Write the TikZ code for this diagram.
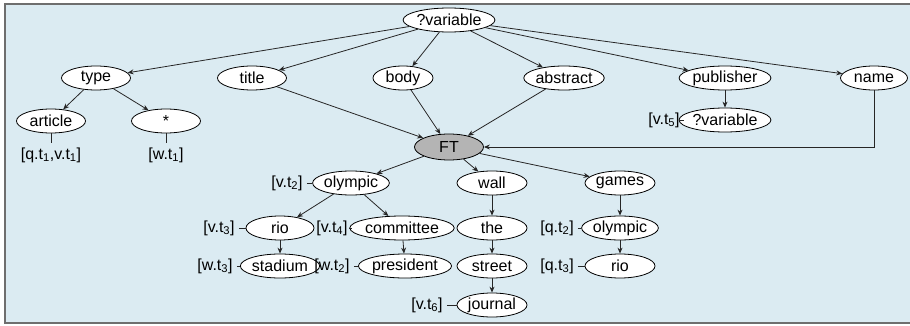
\documentclass[tikz,border=0pt]{standalone}
\usepackage{fontspec}
\setmainfont{Liberation Sans}
\usetikzlibrary{shapes.geometric,arrows.meta}
\definecolor{bgblue}{HTML}{DBEBF2}
\definecolor{frame}{HTML}{6E6E6E}
\definecolor{ftgray}{HTML}{B4B4B4}
\newcommand\mysb[1]{\textsubscript{#1}}
\tikzset{
  ov/.style={ellipse,draw=black,line width=0.8pt,fill=white,inner sep=0pt,
    minimum width=#1,minimum height=24pt,font=\fontsize{16}{18}\selectfont},
  ov/.default=69pt,
  lbl/.style={inner xsep=4pt,inner ysep=1pt,font=\fontsize{16}{18}\selectfont},
  arr/.style={draw=black!85,line width=0.8pt,-{Stealth[length=6pt,width=5pt]}},
  tick/.style={draw=black!85,line width=0.8pt}
}
\begin{document}
\begin{tikzpicture}[x=1pt,y=-1pt]
\useasboundingbox (0,0) rectangle (910,326);
\fill[bgblue] (5,4) rectangle (912,323);
\draw[frame,line width=1.6pt] (912,4) -- (5,4) -- (5,323) -- (912,323);
% top level
\node[ov=88pt] (var) at (449,20) {?variable};
\node[ov] (type) at (96,78) {type};
\node[ov] (title) at (252,78) {title};
\node[ov=60pt] (body) at (403,78) {body};
\node[ov] (abstract) at (564,78) {abstract};
\node[ov=80pt] (publisher) at (725,78) {publisher};
\node[ov=67pt] (name) at (874,78) {name};
\node[ov] (article) at (51,121) {article};
\node[ov] (star) at (166,121) {*};
\node[ov=80pt] (var2) at (725,120) {?variable};
\node[lbl] (lq1) at (51,155) {[q.t\mysb{1},v.t\mysb{1}]};
\node[lbl] (lw1) at (166,155) {[w.t\mysb{1}]};
\node[lbl] (lv5) at (664,120) {[v.t\mysb{5}]};
\node[ov,minimum height=26pt,fill=ftgray] (FT) at (449,147) {FT};
% lower part
\node[ov=68pt] (oly) at (351,183) {olympic};
\node[ov=68pt] (rio) at (280,228) {rio};
\node[ov=90pt] (comm) at (402,228) {committee};
\node[ov=68pt] (stad) at (280,266) {stadium};
\node[ov=92pt] (pres) at (405,266) {president};
\node[ov=70pt] (wall) at (492,183) {wall};
\node[ov=70pt] (the) at (492,228) {the};
\node[ov=70pt] (street) at (492,266) {street};
\node[ov=70pt] (journal) at (492,305) {journal};
\node[ov=70pt] (games) at (620,183) {games};
\node[ov=70pt] (oly2) at (620,228) {olympic};
\node[ov=70pt] (rio2) at (620,266) {rio};
\node[lbl] (lv2) at (287,183) {[v.t\mysb{2}]};
\node[lbl] (lv3) at (219,228) {[v.t\mysb{3}]};
\node[lbl] (lv4) at (332,228) {[v.t\mysb{4}]};
\node[lbl] (lw3) at (215,266) {[w.t\mysb{3}]};
\node[lbl] (lw2) at (332,266) {[w.t\mysb{2}]};
\node[lbl] (lv6) at (427,305) {[v.t\mysb{6}]};
\node[lbl] (lq2) at (557,228) {[q.t\mysb{2}]};
\node[lbl] (lq3) at (557,266) {[q.t\mysb{3}]};
% arrows
\draw[arr] (var) -- (type);
\draw[arr] (var) -- (title);
\draw[arr] (var) -- (body);
\draw[arr] (var) -- (abstract);
\draw[arr] (var) -- (publisher);
\draw[arr] (var) -- (name);
\draw[arr] (type) -- (article);
\draw[arr] (type) -- (star);
\draw[arr] (title) -- (FT);
\draw[arr] (body) -- (FT);
\draw[arr] (abstract) -- (FT);
\draw[arr] (publisher) -- (var2);
\draw[arr] (name.south) |- (FT.east);
\draw[arr] (FT) -- (oly);
\draw[arr] (FT) -- (wall);
\draw[arr] (FT) -- (games);
\draw[arr] (oly) -- (rio);
\draw[arr] (oly) -- (comm);
\draw[arr] (rio) -- (stad);
\draw[arr] (comm) -- (pres);
\draw[arr] (wall) -- (the);
\draw[arr] (the) -- (street);
\draw[arr] (street) -- (journal);
\draw[arr] (games) -- (oly2);
\draw[arr] (oly2) -- (rio2);
% ticks
\draw[tick,shorten >=3pt] (article.south) -- (lq1.north);
\draw[tick,shorten >=3pt] (star.south) -- (lw1.north);
\draw[tick] (lv5) -- (var2);
\draw[tick] (lv2) -- (oly);
\draw[tick] (lv3) -- (rio);
\draw[tick] (lv4) -- (comm);
\draw[tick] (lw3) -- (stad);
\draw[tick] (lw2) -- (pres);
\draw[tick] (lv6) -- (journal);
\draw[tick] (lq2) -- (oly2);
\draw[tick] (lq3) -- (rio2);
\end{tikzpicture}
\end{document}
